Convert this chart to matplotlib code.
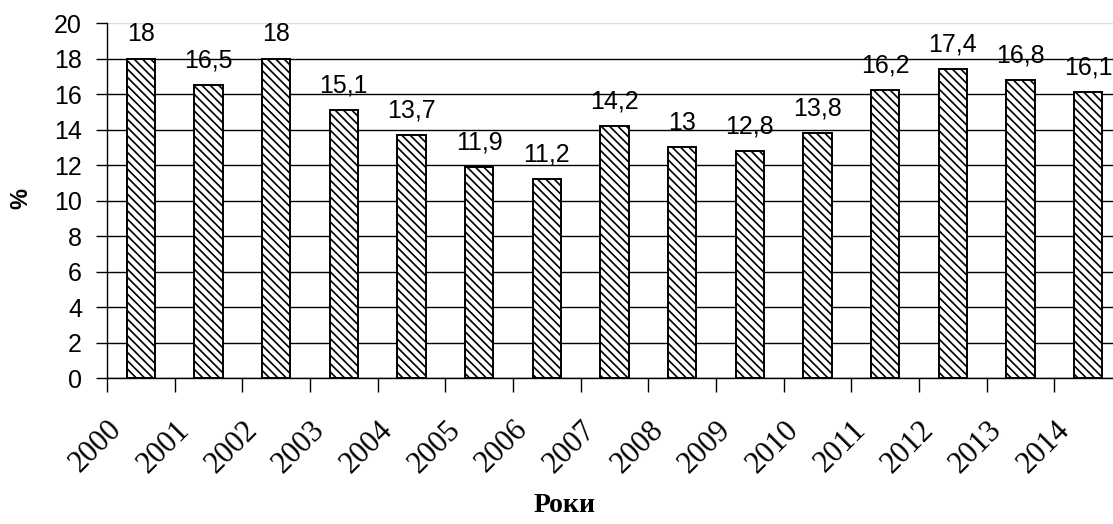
"""Bar chart of yearly percentages, 2000-2014."""

import matplotlib.pyplot as plt
import matplotlib.transforms as mtransforms
import numpy as np

YEARS = ["2000", "2001", "2002", "2003", "2004", "2005", "2006", "2007",
         "2008", "2009", "2010", "2011", "2012", "2013", "2014"]
VALUES = [18, 16.5, 18, 15.1, 13.7, 11.9, 11.2, 14.2, 13, 12.8, 13.8, 16.2, 17.4, 16.8, 16.1]
Y_TICKS = [0, 2, 4, 6, 8, 10, 12, 14, 16, 18, 20]

SANS = ["Liberation Sans", "DejaVu Sans"]
SERIF = ["Liberation Serif", "DejaVu Serif"]

plt.rcParams["hatch.linewidth"] = 1.2
plt.rcParams["font.family"] = SANS


def fmt(v):
    text = f"{v:g}"
    return text.replace(".", ",")


def main():
    fig = plt.figure(figsize=(11.13, 5.24), dpi=100)
    ax = fig.add_axes([0.0961, 0.2786, 0.912, 0.6775])

    x = np.arange(len(YEARS))
    bars = ax.bar(x, VALUES, width=0.42, color="white", edgecolor="black",
                  hatch="\\\\\\\\", linewidth=1.4, zorder=3)

    for rect, v in zip(bars, VALUES):
        ax.annotate(fmt(v), (rect.get_x() + rect.get_width() / 2, rect.get_height()),
                    xytext=(0, 9), textcoords="offset points", ha="center", va="bottom",
                    fontsize=18, family=SANS, zorder=4)

    ax.set_xlim(-0.5, len(YEARS) - 0.5)
    ax.set_ylim(0, 20)
    ax.set_yticks(Y_TICKS)
    ax.tick_params(axis="y", labelsize=18, length=8, width=1, direction="out", pad=10)

    # ticks at category boundaries, year labels drawn as plain text
    ax.set_xticks(np.arange(len(YEARS) + 1) - 0.5)
    ax.tick_params(axis="x", length=10, width=1, direction="out", labelbottom=False)
    shift = mtransforms.ScaledTranslation(-13 / 100, -37 / 100, fig.dpi_scale_trans)
    trans = ax.get_xaxis_transform() + shift
    for xi, year in zip(x, YEARS):
        ax.text(xi, 0, year, transform=trans, rotation=45, ha="right", va="top",
                fontsize=22, family=SERIF, clip_on=False)

    ax.yaxis.grid(True, color="black", linewidth=1.0, zorder=0)
    ax.set_axisbelow(True)
    ax.get_ygridlines()[-1].set_color("#dddddd")
    for side in ("top", "right"):
        ax.spines[side].set_visible(False)
    ax.spines["left"].set_linewidth(1.0)
    ax.spines["bottom"].set_linewidth(1.0)

    fig.text(0.0185, 0.622, "%", rotation=90, ha="center", va="center",
             fontsize=17, fontweight="bold", family=SANS)
    fig.text(0.507, 0.036, "Роки", ha="center", va="center",
             fontsize=20, fontweight="bold", family=SERIF)

    fig.savefig("out.png", dpi=100)
    plt.close(fig)


if __name__ == "__main__":
    main()
